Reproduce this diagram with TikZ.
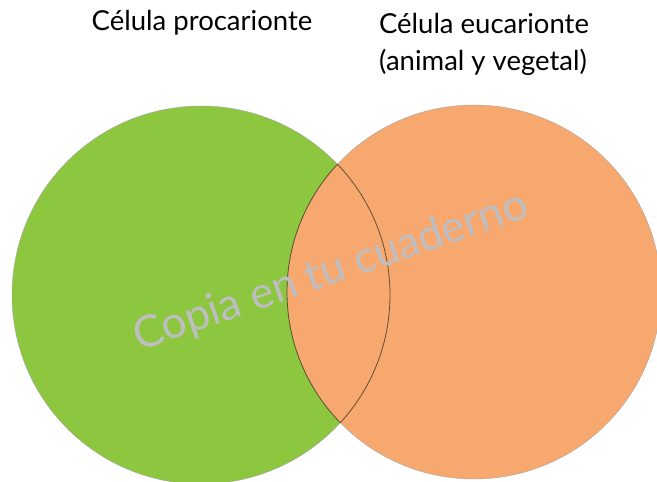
\documentclass[tikz,border=0pt]{standalone}
\usepackage{fontspec}
\setmainfont{Lato}
\usepackage{xcolor}
\definecolor{procgreen}{RGB}{141,198,63}
\definecolor{eucorange}{RGB}{247,168,110}
\definecolor{lensline}{RGB}{95,80,45}
\definecolor{markgray}{RGB}{190,190,194}
\begin{document}
\begin{tikzpicture}[x=1pt,y=-1pt]
    \useasboundingbox (0,0) rectangle (657,482);
    \coordinate(procenter) at (201,295);
    \coordinate(eucenter) at (474,292);
    \draw[color=gray!70,fill=procgreen,line width=0.4pt] (procenter) circle (189);
    \draw[color=gray!70,fill=eucorange,line width=0.4pt] (eucenter) circle (187);
    \begin{scope}
      \clip (eucenter) circle (187);
      \draw[color=lensline,line width=0.8pt] (procenter) circle (189);
    \end{scope}
    \begin{scope}
      \clip (procenter) circle (189);
      \draw[color=lensline,line width=0.8pt] (eucenter) circle (187);
    \end{scope}
    \draw (202,23) node (proctitle) {\fontsize{27.5}{30}\selectfont Célula procarionte};
    \draw (484,23) node (euctitle) {\fontsize{27.5}{30}\selectfont Célula eucarionte};
    \draw (483,62) node (eucsubtitle) {\fontsize{27.5}{30}\selectfont (animal y vegetal)};
    \draw (331,272) node[rotate=19,color=markgray] (watermark)
    {\fontsize{44}{50}\selectfont Copia en tu cuaderno};
  \end{tikzpicture}
\end{document}
